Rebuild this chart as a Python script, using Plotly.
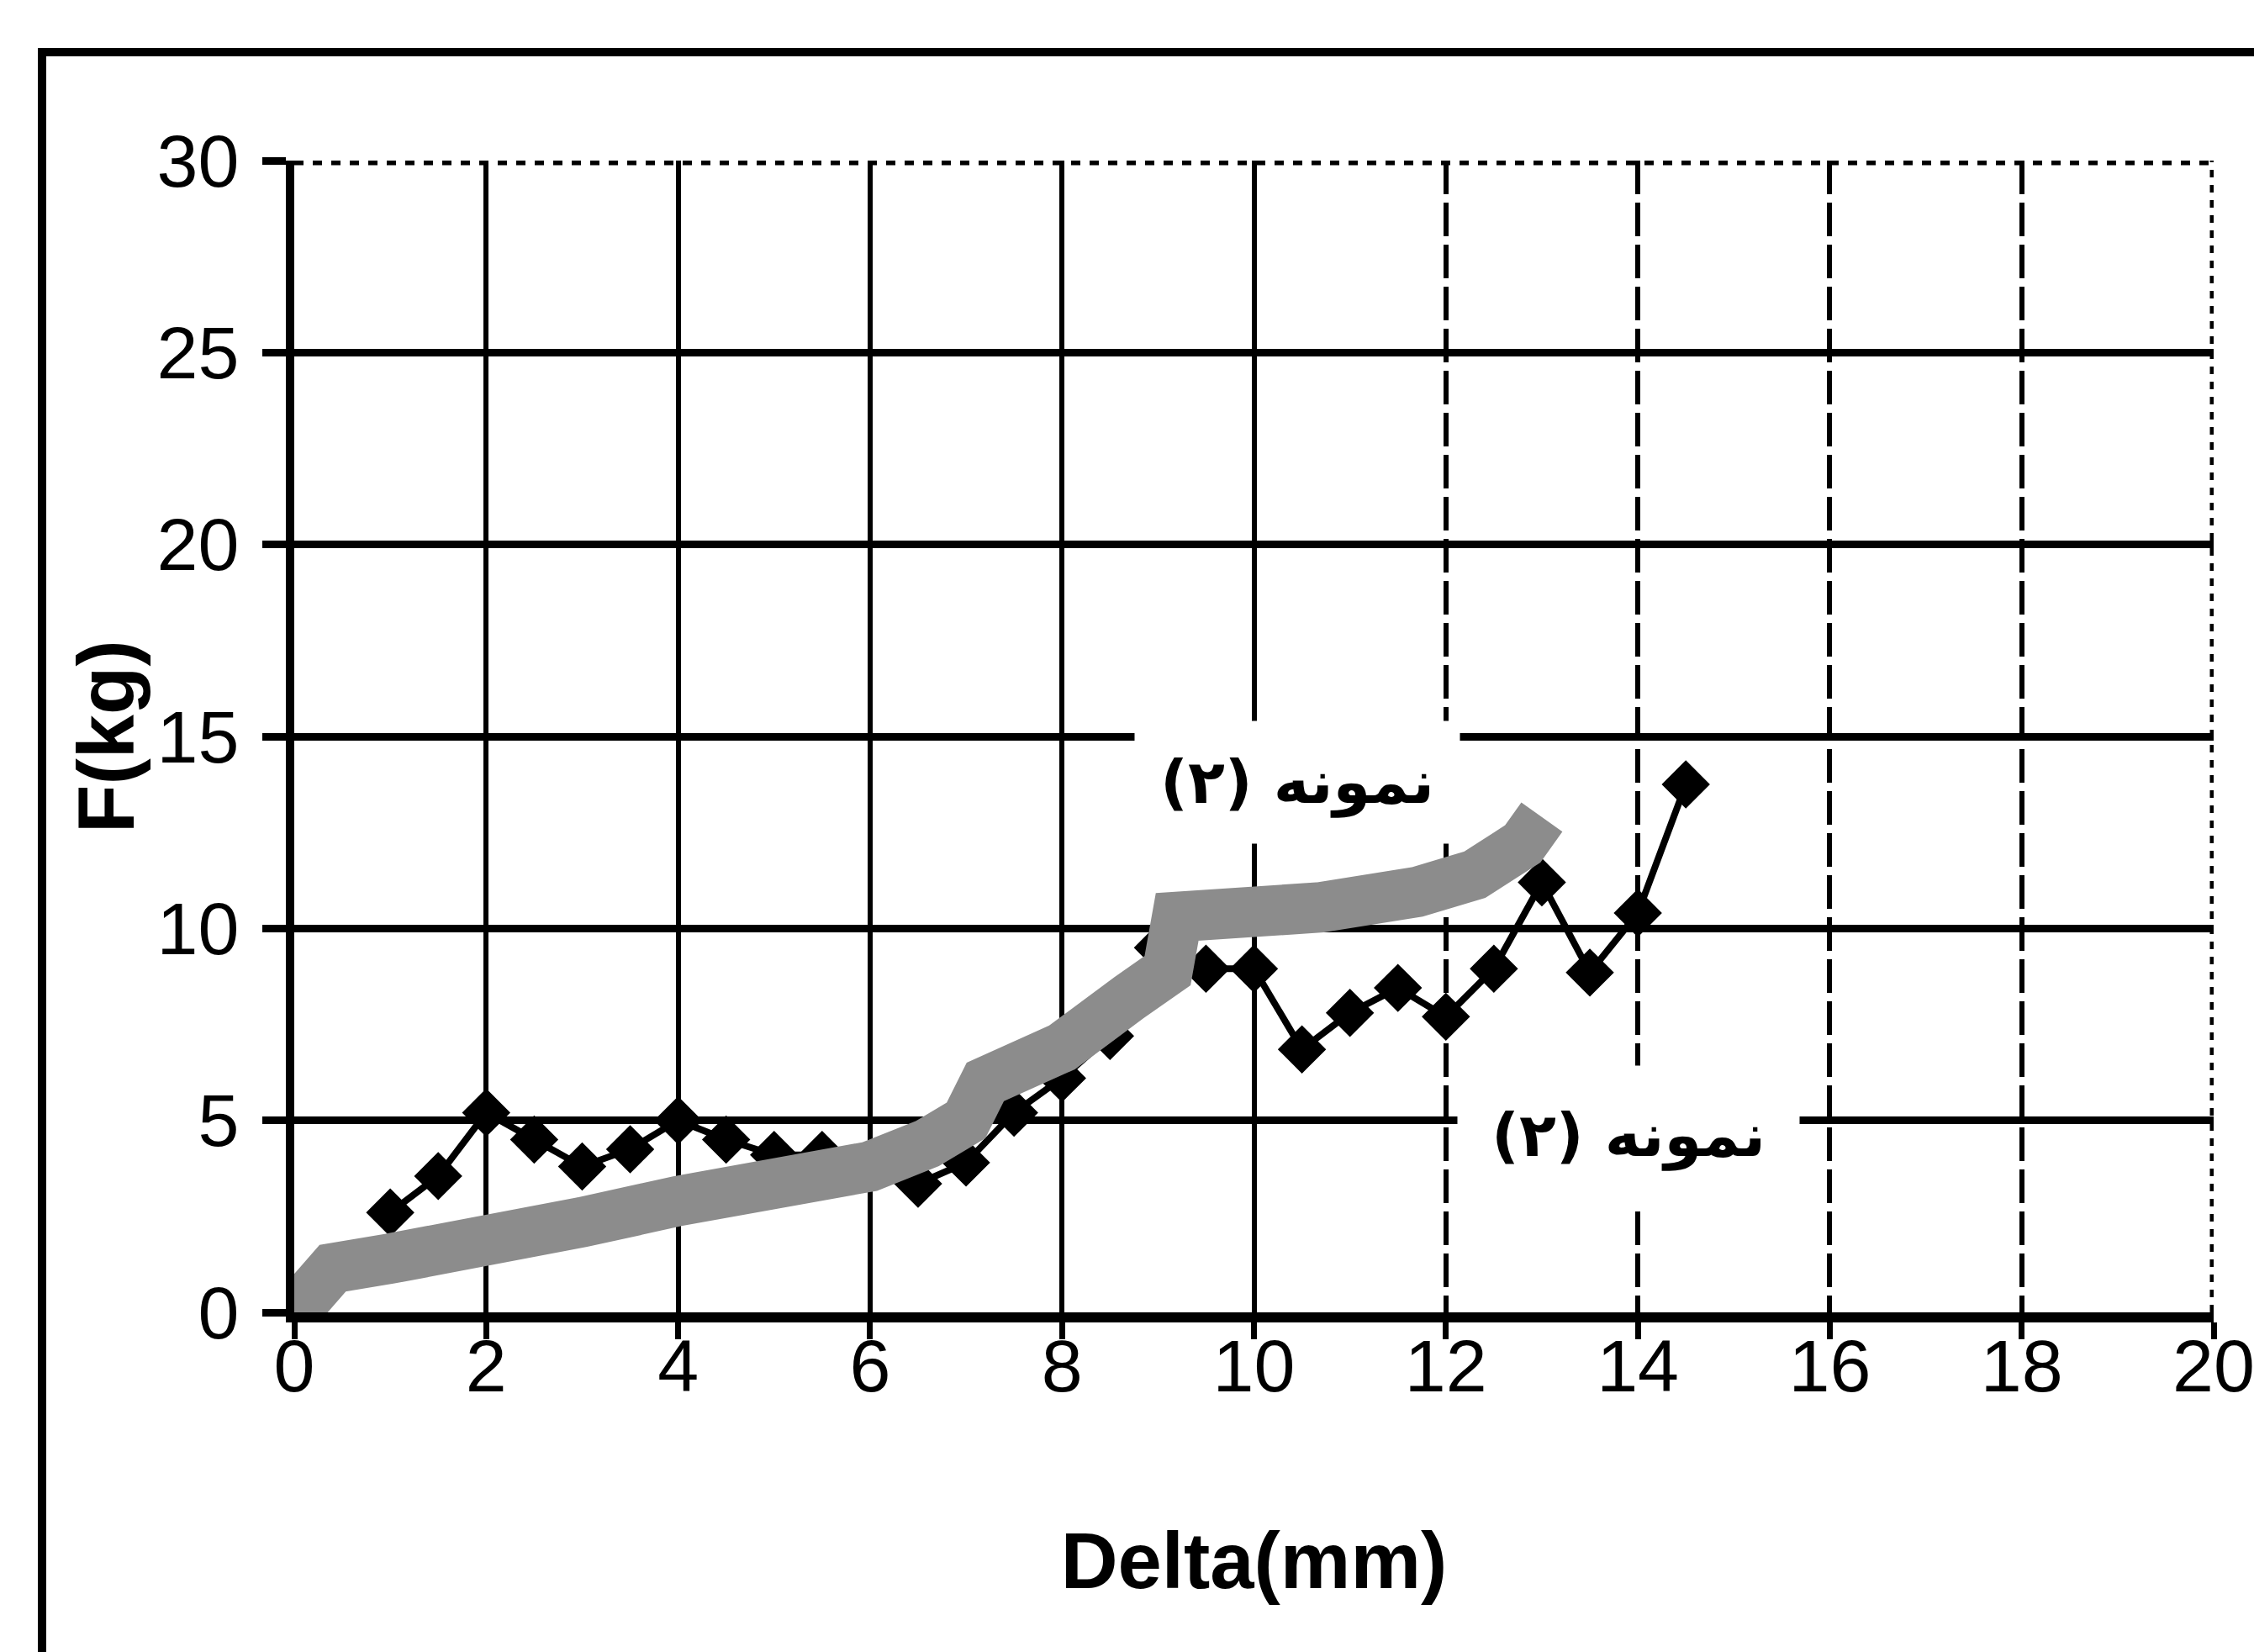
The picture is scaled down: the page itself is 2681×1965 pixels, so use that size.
import plotly.graph_objects as go

# ---------------- data ----------------
delta_black = [1.0, 1.5, 2.0, 2.5, 3.0, 3.5, 4.0, 4.5, 5.0, 5.5, 6.0, 6.5, 7.0, 7.5,
               8.0, 8.5, 9.0, 9.5, 10.0, 10.5, 11.0, 11.5, 12.0, 12.5, 13.0, 13.5, 14.0, 14.5]
force_black = [2.6, 3.55, 5.2, 4.5, 3.8, 4.25, 5.0, 4.5, 4.1, 4.1, 3.8, 3.35, 3.9, 5.2,
               6.1, 7.2, 9.5, 8.95, 8.95, 6.85, 7.8, 8.45, 7.7, 8.95, 11.2, 8.85, 10.4, 13.75]

delta_gray = [0.0, 0.4, 1.0, 2.0, 3.0, 4.0, 5.0, 6.0, 6.6, 7.0, 7.2, 8.0, 8.7, 9.1,
              9.2, 10.0, 10.7, 11.7, 12.3, 12.8, 13.0]
force_gray = [0.0, 1.15, 1.4, 1.75, 2.35, 2.9, 3.3, 3.8, 4.4, 5.0, 6.0, 6.9, 8.2, 8.9,
              10.3, 10.4, 10.55, 10.95, 11.4, 12.2, 12.9]

x_tick_vals = [0, 2, 4, 6, 8, 10, 12, 14, 16, 18, 20]
x_grid_solid = [2, 4, 6, 8, 10]
x_grid_dashed = [12, 14, 16, 18]
y_tick_vals = [0, 5, 10, 15, 20, 25, 30]

sample_label = "نمونه (۲)"
x_title = "Delta(mm)"
y_title = "F(kg)"

# ---------------- figure ----------------
W, H = 2681, 1965
ML, MR, MT, MB = 350, 48, 191, 404
PW, PH = W - ML - MR, H - MT - MB


def px_x(p):
    return (p - ML) / PW


def px_y(p):
    return (H - MB - p) / PH


fig = go.Figure()

fig.add_trace(go.Scatter(
    x=delta_black, y=force_black, mode="lines+markers",
    line=dict(color="black", width=8),
    marker=dict(symbol="diamond", size=42, color="black",
                line=dict(color="black", width=2)),
    showlegend=False, hoverinfo="x+y"))

fig.add_trace(go.Scatter(
    x=delta_gray, y=force_gray, mode="lines",
    line=dict(color="#8c8c8c", width=60),
    showlegend=False, hoverinfo="x+y"))

# empty traces that carry the overlaid grid axes
fig.add_trace(go.Scatter(x=[], y=[], xaxis="x2", yaxis="y", showlegend=False))
fig.add_trace(go.Scatter(x=[], y=[], xaxis="x3", yaxis="y", showlegend=False))

tick_font = dict(family="Liberation Sans, Arial, sans-serif", size=88, color="black")
title_font = dict(family="Liberation Sans, Arial, sans-serif", size=94, color="black",
                  weight="bold")
label_font = dict(family="DejaVu Sans, Noto Sans, sans-serif", size=72,
                  color="black", weight="bold")

fig.update_layout(
    width=W, height=H,
    margin=dict(l=ML, r=MR, t=MT, b=MB, pad=0, autoexpand=False),
    paper_bgcolor="white", plot_bgcolor="white",
    showlegend=False,
    xaxis=dict(
        range=[0, 20], tickmode="array", tickvals=x_tick_vals,
        ticks="outside", ticklen=20, tickwidth=7, tickcolor="black",
        tickfont=tick_font, ticklabelstandoff=-44, ticklabeloverflow="allow",
        showgrid=False, zeroline=False, automargin=False,
        showline=True, linecolor="black", linewidth=12,
        title=dict(text=x_title, font=title_font, standoff=156),
        fixedrange=True,
    ),
    xaxis2=dict(
        overlaying="x", anchor="y", range=[0, 20], matches="x",
        tickmode="array", tickvals=x_grid_solid, automargin=False,
        showticklabels=False, ticks="", showline=False, zeroline=False,
        showgrid=True, gridcolor="black", gridwidth=6,
    ),
    xaxis3=dict(
        overlaying="x", anchor="y", range=[0, 20], matches="x",
        tickmode="array", tickvals=x_grid_dashed, automargin=False,
        showticklabels=False, ticks="", showline=False, zeroline=False,
        showgrid=True, gridcolor="black", gridwidth=6, griddash="40px,10px",
    ),
    yaxis=dict(
        range=[0, 30], tickmode="array", tickvals=y_tick_vals,
        ticks="outside", ticklen=28, tickwidth=9, tickcolor="black",
        tickfont=tick_font, ticklabelstandoff=10,
        showgrid=True, gridcolor="black", gridwidth=9,
        zeroline=False, automargin=False,
        showline=True, linecolor="black", linewidth=10,
        title=dict(text=y_title, font=title_font, standoff=0),
        fixedrange=True,
    ),
    shapes=[
        # dotted top border at y = 30
        dict(type="line", xref="x", yref="y", x0=0, x1=20, y0=30, y1=30,
             line=dict(color="black", width=11, dash="dot"), layer="above"),
        # dotted right border at x = 20
        dict(type="line", xref="x", yref="y", x0=20, x1=20, y0=0, y1=30,
             line=dict(color="black", width=9, dash="dot"), layer="above"),
        # outer frame of the printed figure (runs off the right/bottom edge)
        dict(type="rect", xref="paper", yref="paper",
             x0=px_x(50), x1=px_x(2760), y0=px_y(2050), y1=px_y(62),
             line=dict(color="black", width=10), fillcolor="rgba(0,0,0,0)",
             layer="above"),
    ],
    annotations=[
        dict(x=10.45, y=13.8, xref="x", yref="y", text=sample_label,
             showarrow=False, bgcolor="white", borderpad=30, font=label_font),
        dict(x=13.9, y=4.6, xref="x", yref="y", text=sample_label,
             showarrow=False, bgcolor="white", borderpad=40, font=label_font),
    ],
)

fig.write_html(
    "out.html",
    config={"displayModeBar": False},
    post_script="document.body.style.margin='0';document.body.style.overflow='hidden';",
)
